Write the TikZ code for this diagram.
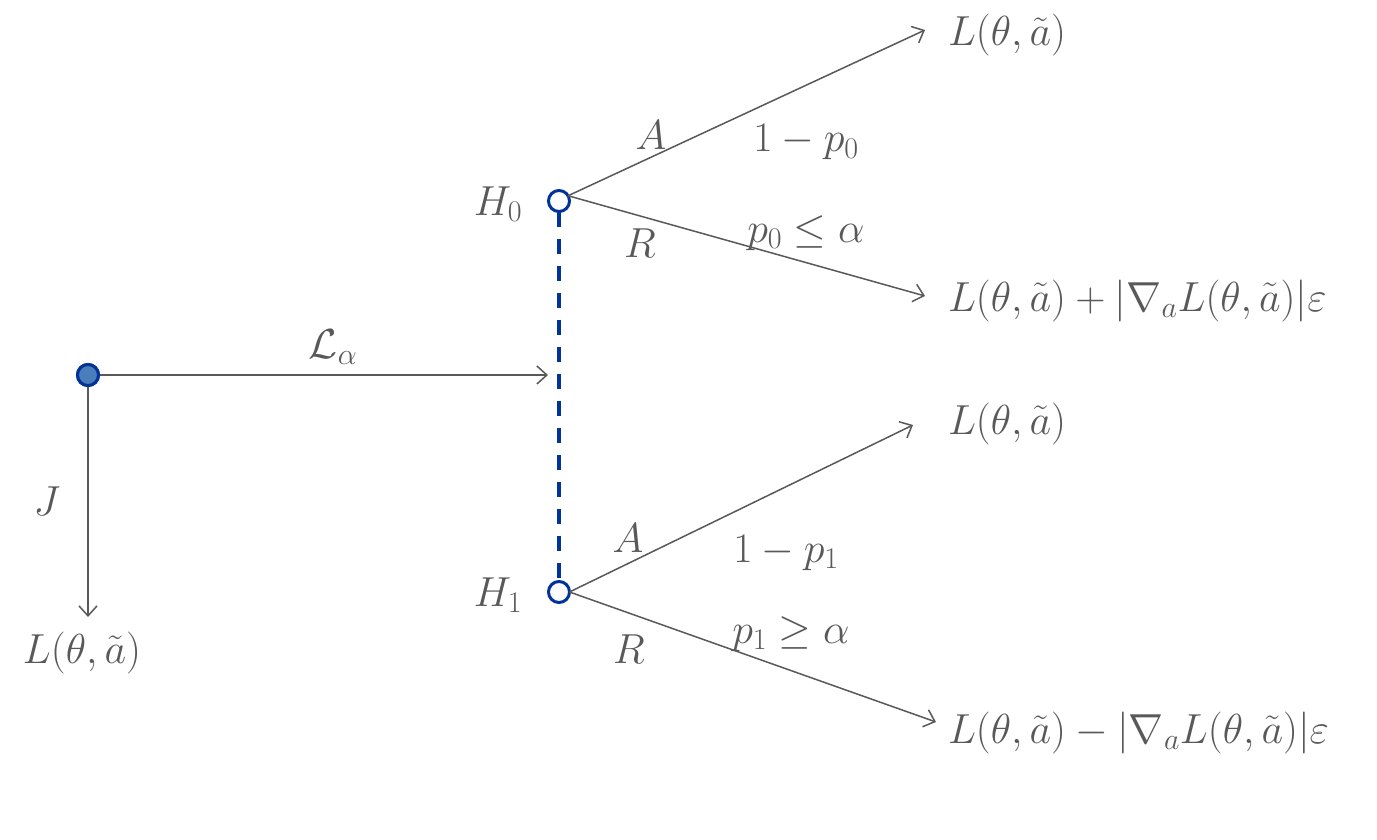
\RequirePackage{fix-cm}
\documentclass[tikz,border=0pt]{standalone}
\usepackage{amsmath}
\usetikzlibrary{arrows.meta}
\DeclareMathSizes{42}{42}{30}{22}
\definecolor{txtgray}{HTML}{595959}
\definecolor{dblue}{HTML}{003399}
\definecolor{rootfill}{HTML}{4A7EBB}
\begin{document}
\begin{tikzpicture}[x=1pt,y=-1pt,
  lbl/.style={text=txtgray,inner sep=0pt,outer sep=0pt,font=\fontsize{42}{50}\selectfont},
  conn/.style={draw=txtgray,line width=1.5pt,-{Straight Barb[length=10pt,width=18pt,line width=1.5pt]}},
  opendot/.style={circle,draw=dblue,line width=3pt,fill=white,minimum size=21pt,inner sep=0pt,outer sep=0pt},
  rootdot/.style={circle,draw=dblue,line width=3pt,fill=rootfill,minimum size=21pt,inner sep=0pt,outer sep=0pt},
  hypline/.style={draw=dblue,line width=4pt,dash pattern=on 15pt off 12pt}]
\path[use as bounding box,fill=white] (0,0) rectangle (1377,840);

% nodes
\node[rootdot] (root) at (88,375) {};
\node[opendot] (H0) at (559,201) {};
\node[opendot] (H1) at (559,592) {};
\coordinate (tipL) at (548,375);
\coordinate (tipJ) at (88,617);
\coordinate (tipA0) at (925,30);
\coordinate (tipR0) at (925,296);
\coordinate (tipA1) at (913,425);
\coordinate (tipR1) at (936,722);

% connectors
\draw[hypline] (H0.south) -- (H1.north);
\draw[conn] (root.east) -- (tipL);
\draw[conn] (root.south) -- (tipJ);
\draw[conn] (H0.30) -- (tipA0);
\draw[conn] (H0.30) -- (tipR0);
\draw[conn] (H1.east) -- (tipA1);
\draw[conn] (H1.east) -- (tipR1);
\node[rootdot] at (root) {};

% labels
\node[lbl,anchor=base] (La) at (333,358) {$\mathcal{L}_{\alpha}$};
\node[lbl,anchor=base] (J) at (47,515) {$J$};
\node[lbl,anchor=base] (outJ) at (82,663) {$L(\theta,\tilde{a})$};
\node[lbl,anchor=base] (H0l) at (498,215) {$H_0$};
\node[lbl,anchor=base] (H1l) at (498,606) {$H_1$};
\node[lbl,anchor=base] (A0) at (651,150) {$A$};
\node[lbl,anchor=base] (pA0) at (806,152) {$1-p_0$};
\node[lbl,anchor=base] (R0) at (640,257) {$R$};
\node[lbl,anchor=base] (pR0) at (806,242) {$p_0\leq\alpha$};
\node[lbl,anchor=base] (A1) at (628,552) {$A$};
\node[lbl,anchor=base] (pA1) at (786,562) {$1-p_1$};
\node[lbl,anchor=base] (R1) at (629,663) {$R$};
\node[lbl,anchor=base] (pR1) at (791,643) {$p_1\geq\alpha$};
\node[lbl,anchor=base west] (oA0) at (948,46) {$L(\theta,\tilde{a})$};
\node[lbl,anchor=base west] (oR0) at (948,311) {$L(\theta,\tilde{a})+|\nabla_{a}L(\theta,\tilde{a})|\varepsilon$};
\node[lbl,anchor=base west] (oA1) at (948,434) {$L(\theta,\tilde{a})$};
\node[lbl,anchor=base west] (oR1) at (948,743) {$L(\theta,\tilde{a})-|\nabla_{a}L(\theta,\tilde{a})|\varepsilon$};
\end{tikzpicture}
\end{document}
